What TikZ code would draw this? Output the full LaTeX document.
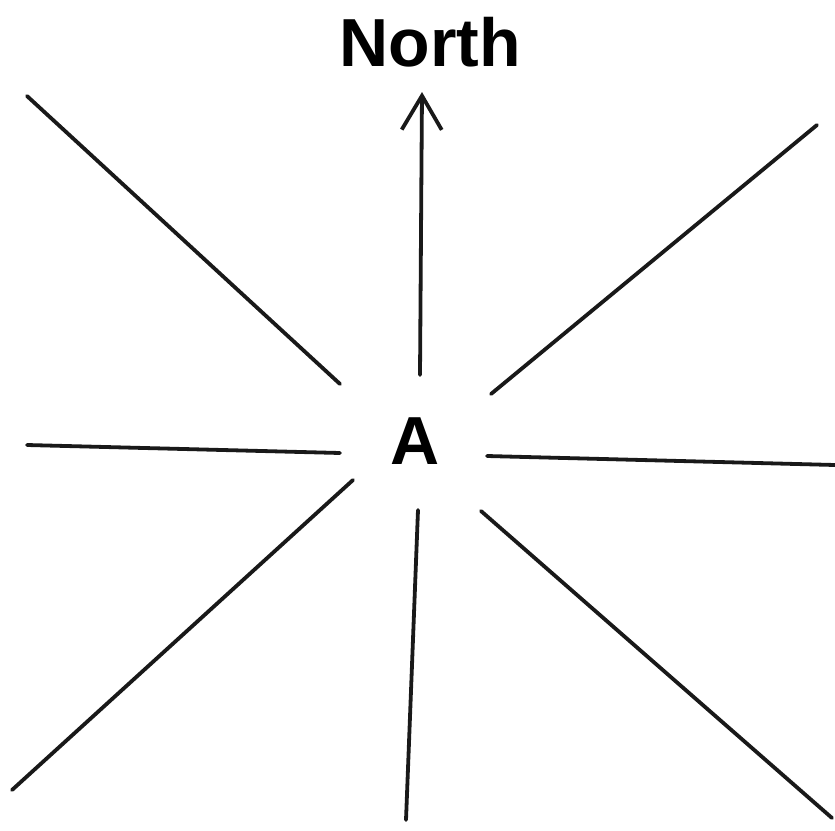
\documentclass[tikz,border=0pt]{standalone}
\usepackage{fontspec}
\setmainfont{Liberation Sans}
\usetikzlibrary{arrows.meta}
\begin{document}
\begin{tikzpicture}[x=1pt,y=-1pt,
  ray/.style={line width=3.8pt, line cap=round, color=black!90},
  lbl/.style={font=\bfseries\fontsize{68}{68}\selectfont, inner sep=0pt}]
\useasboundingbox (0,0) rectangle (835,830);
\node[lbl] (north) at (430,42) {North};
\node[lbl] (A) at (415,441) {A};
% endpoints
\coordinate (n0) at (420,375); \coordinate (n1) at (422,92);
\coordinate (tl0) at (340,384); \coordinate (tl1) at (27,96);
\coordinate (tr0) at (491,394); \coordinate (tr1) at (817,125);
\coordinate (l0) at (340,453); \coordinate (l1) at (27,445);
\coordinate (r0) at (487,456); \coordinate (r1) at (835,465);
\coordinate (bl0) at (353,480); \coordinate (bl1) at (12,790);
\coordinate (s0) at (418,510); \coordinate (s1) at (406,820);
\coordinate (br0) at (481,511); \coordinate (br1) at (832,818);
\draw[ray, -{Straight Barb[length=34pt,width=40pt,line width=3.8pt]}] (n0) -- (n1);
\draw[ray] (tl0) -- (tl1);
\draw[ray] (tr0) -- (tr1);
\draw[ray] (l0) -- (l1);
\draw[ray] (r0) -- (r1);
\draw[ray] (bl0) -- (bl1);
\draw[ray] (s0) -- (s1);
\draw[ray] (br0) -- (br1);
\end{tikzpicture}
\end{document}
